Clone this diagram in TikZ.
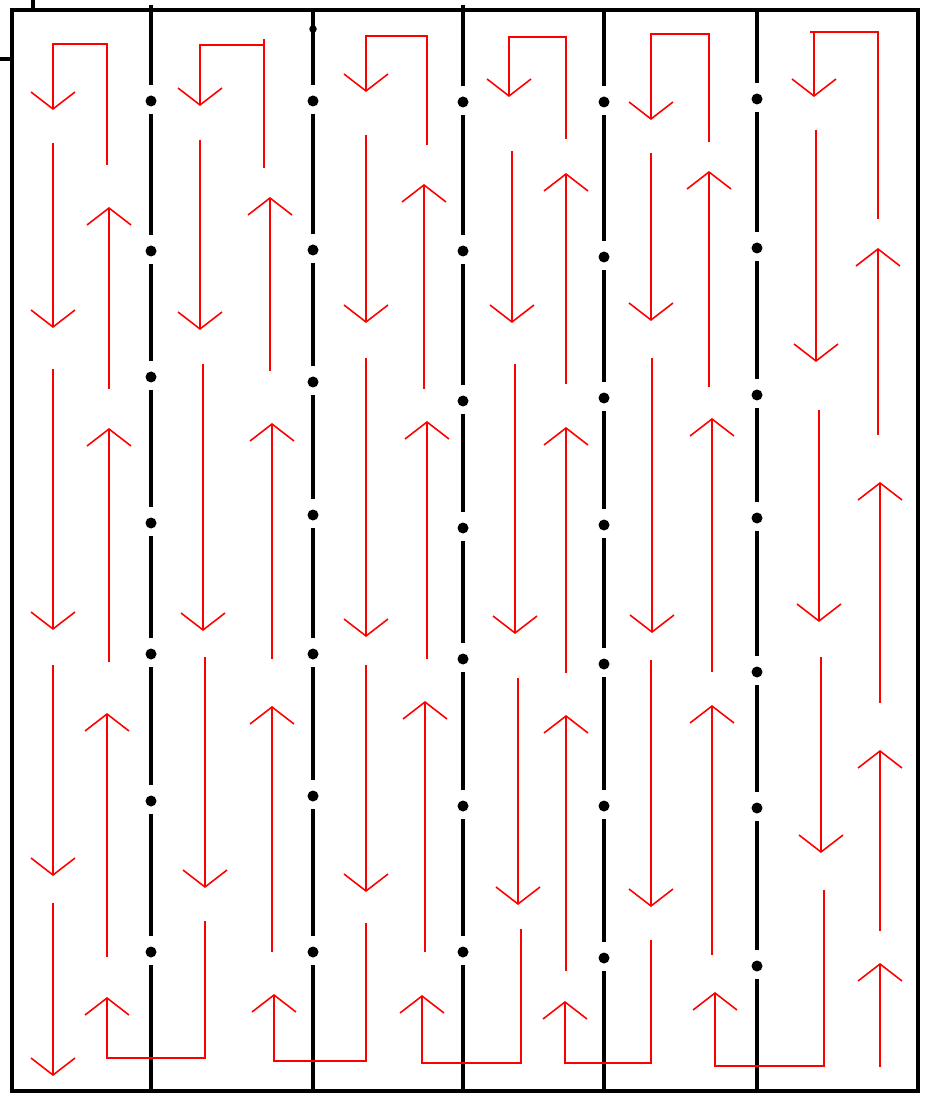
\documentclass[tikz,border=0pt]{standalone}
\usetikzlibrary{arrows.meta}

% one wall of the grid: x, top end, y of its joints
\newcommand{\pierline}[3]{%
  \foreach \d [remember=\d as \p (initially #2)] in {#3,1105}
    \draw[wall] (#1,\p+13) -- (#1,\d-16);
  \foreach \d in {#3}
    \fill (#1,\d) circle (0.11cm);
}

\begin{document}
\begin{tikzpicture}[
  x={(0.02cm,0)}, y={(0,-0.02cm)},
  wall/.style={line width=2.8pt},
  frame/.style={line width=2.6pt},
  flow/.style={red, line width=0.9pt,
    -{Straight Barb[length=0.34cm,width=0.88cm]}},
  lane/.style={red, line width=0.9pt},
]
\useasboundingbox (0,0) rectangle (930,1097);

% ── outer frame ──────────────────────
\draw[frame] (12,10) rectangle (918,1091);
\draw[frame] (33,0) -- (33,10);
\draw[frame] (0,59) -- (12,59);

% ── walls with joints ────────────────
\pierline{151}{-8}{101,251,377,523,654,801,952}
\pierline{313}{-3}{101,250,382,515,654,796,952}
\pierline{463}{-8}{102,251,401,528,659,806,952}
\pierline{604}{-3}{102,257,398,525,664,806,958}
\pierline{757}{-3}{99,248,395,518,672,808,966}
\fill (313,29) circle (0.075cm);

% ── column 1 ─────────────────────────
\draw[flow] (107,165) -- (107,44) -- (53,44) -- (53,110);
\draw[flow] (53,143) -- (53,328);
\draw[flow] (53,369) -- (53,630);
\draw[flow] (53,665) -- (53,876);
\draw[flow] (53,903) -- (53,1076);
\draw[flow] (205,921) -- (205,1058) -- (107,1058) -- (107,997);
\draw[flow] (107,957) -- (107,713);
\draw[flow] (109,662) -- (109,428);
\draw[flow] (109,389) -- (109,207);

% ── column 2 ─────────────────────────
\draw[lane] (264,45) -- (264,39);
\draw[flow] (264,168) -- (264,45) -- (200,45) -- (200,106);
\draw[flow] (200,140) -- (200,330);
\draw[flow] (203,364) -- (203,631);
\draw[flow] (205,657) -- (205,888);
\draw[flow] (366,923) -- (366,1061) -- (274,1061) -- (274,994);
\draw[flow] (272,952) -- (272,706);
\draw[flow] (272,659) -- (272,423);
\draw[flow] (270,371) -- (270,197);

% ── column 3 ─────────────────────────
\draw[flow] (427,145) -- (427,36) -- (366,36) -- (366,92);
\draw[flow] (366,135) -- (366,323);
\draw[flow] (366,358) -- (366,637);
\draw[flow] (366,665) -- (366,892);
\draw[flow] (521,929) -- (521,1063) -- (422,1063) -- (422,995);
\draw[flow] (425,952) -- (425,701);
\draw[flow] (427,659) -- (427,421);
\draw[flow] (424,389) -- (424,184);

% ── column 4 ─────────────────────────
\draw[flow] (566,139) -- (566,37) -- (509,37) -- (509,97);
\draw[flow] (512,151) -- (512,323);
\draw[flow] (515,364) -- (515,634);
\draw[flow] (518,678) -- (518,905);
\draw[flow] (651,940) -- (651,1063) -- (565,1063) -- (565,1001);
\draw[flow] (566,971) -- (566,715);
\draw[flow] (566,673) -- (566,427);
\draw[flow] (566,384) -- (566,173);

% ── column 5 ─────────────────────────
\draw[flow] (709,142) -- (709,34) -- (651,34) -- (651,120);
\draw[flow] (651,153) -- (651,321);
\draw[flow] (652,358) -- (652,633);
\draw[flow] (651,660) -- (651,907);
\draw[flow] (824,890) -- (824,1066) -- (715,1066) -- (715,992);
\draw[flow] (712,955) -- (712,705);
\draw[flow] (712,672) -- (712,418);
\draw[flow] (709,387) -- (709,171);

% ── column 6 ─────────────────────────
\draw[lane] (810,32) -- (814,32);
\draw[flow] (878,219) -- (878,32) -- (814,32) -- (814,97);
\draw[flow] (816,130) -- (816,362);
\draw[flow] (819,410) -- (819,622);
\draw[flow] (821,657) -- (821,853);
\draw[flow] (880,1067) -- (880,963);
\draw[flow] (880,931) -- (880,750);
\draw[flow] (880,703) -- (880,482);
\draw[flow] (878,435) -- (878,248);

\end{tikzpicture}
\end{document}
